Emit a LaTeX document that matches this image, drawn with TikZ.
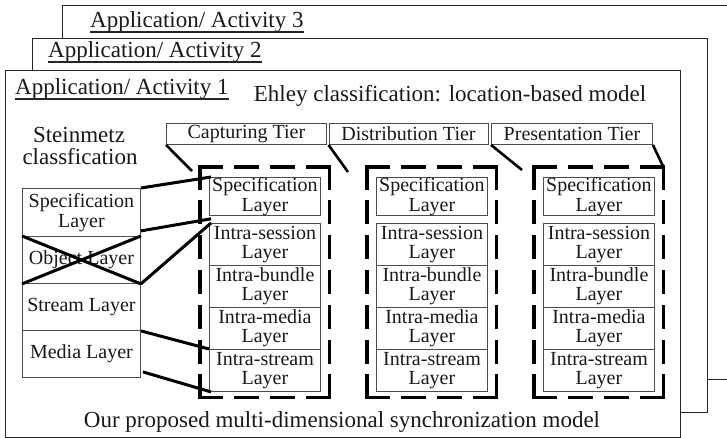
\documentclass[tikz,border=0pt]{standalone}
\usepackage{fontspec}
\setmainfont{Liberation Serif}
\begin{document}
\begin{tikzpicture}[x=1pt,y=-1pt,
  every node/.style={text=black!90},
  frame/.style={draw=black!85,line width=1.3pt,fill=white,anchor=north west,inner sep=0pt},
  apptitle/.style={anchor=base west,inner sep=0pt,font=\fontsize{23}{26}\selectfont},
  bigtext/.style={inner sep=0pt,font=\fontsize{23}{26}\selectfont},
  ulined/.style={draw=black!85,line width=1.1pt},
  tierbox/.style={draw=black!70,line width=0.9pt,anchor=north west,inner sep=0pt,
    minimum height=21pt,font=\fontsize{20}{20}\selectfont},
  layerbox/.style={draw=black!70,line width=0.9pt,anchor=north west,inner sep=0pt,
    minimum width=111pt,align=center,font=\fontsize{20}{19.5}\selectfont},
  leftbox/.style={draw=black!70,line width=0.9pt,anchor=north west,inner sep=0pt,
    minimum width=118pt,align=center,font=\fontsize{20}{19.5}\selectfont},
  region/.style={anchor=north west,inner sep=0pt,minimum width=129pt,minimum height=230pt},
  hside/.style={line width=3.5pt,line cap=rect,dash pattern=on 21pt off 15pt},
  vside/.style={line width=3.5pt,line cap=rect,dash pattern=on 20.86pt off 14pt},
  link/.style={line width=3pt},
  slant/.style={line width=2.6pt}]

\useasboundingbox (0,0) rectangle (727,438);
\clip (0,0) rectangle (727,438);

% stacked activity sheets, back to front
\node[frame,minimum width=700pt,minimum height=374pt] (f3) at (62,5) {};
\node[apptitle] (t3) at (90,28) {Application/ Activity 3};
\draw[ulined] ([yshift=-4pt]t3.base west) -- ([yshift=-4pt]t3.base east);

\node[frame,minimum width=675pt,minimum height=374pt] (f2) at (32,38) {};
\node[apptitle] (t2) at (48,58) {Application/ Activity 2};
\draw[ulined] ([yshift=-4pt]t2.base west) -- ([yshift=-4pt]t2.base east);

\node[frame,minimum width=675pt,minimum height=367pt] (f1) at (5,70) {};
\node[apptitle] (t1) at (15,95) {Application/ Activity 1};
\draw[ulined] ([yshift=-4pt]t1.base west) -- ([yshift=-4pt]t1.base east);

% headings
\node[bigtext,anchor=base] (ehley) at (450,102) {Ehley classification: location-based model};
\node[bigtext,anchor=base] (steinA) at (79,143) {Steinmetz};
\node[bigtext,anchor=base] (steinB) at (80,165) {classfication};
\node[bigtext,anchor=base] (ours) at (342,427) {Our proposed multi-dimensional synchronization model};

% tiers
\node[tierbox,minimum width=160pt] (tcap) at (166,123) {Capturing Tier};
\node[tierbox,minimum width=159pt] (tdist) at (328.5,123) {Distribution Tier};
\node[tierbox,minimum width=161pt] (tpres) at (491,123) {Presentation Tier};

% Steinmetz layers
\node[leftbox,minimum height=48pt] (lspec) at (22,188) {Specification\\Layer};
\node[leftbox,minimum height=47pt] (lobj) at (22,236) {Object Layer};
\node[leftbox,minimum height=47pt] (lstr) at (22,283) {Stream Layer};
\node[leftbox,minimum height=47pt] (lmed) at (22,330) {Media Layer};

% one column of layers per tier, inside a dashed region
\foreach \col/\xx in {c/209,d/376,p/543} {
  \node[region] (\col dash) at (\xx-9,167) {};
  \draw[hside] (\col dash.north west) -- (\col dash.north east);
  \draw[hside] (\col dash.south west) -- (\col dash.south east);
  \draw[vside] (\col dash.north west) -- (\col dash.south west);
  \draw[vside] (\col dash.north east) -- (\col dash.south east);
  \node[layerbox,minimum height=37pt] (\col spec) at (\xx,177) {Specification\\Layer};
  \node[layerbox,minimum height=42pt] (\col session) at (\xx,223) {Intra-session\\Layer};
  \node[layerbox,minimum height=42pt] (\col bundle) at (\xx,265) {Intra-bundle\\Layer};
  \node[layerbox,minimum height=42pt] (\col media) at (\xx,307) {Intra-media\\Layer};
  \node[layerbox,minimum height=42pt] (\col stream) at (\xx,349) {Intra-stream\\Layer};
}

% tier edges fanning down to the layer regions
\coordinate (s1) at (192,171);
\coordinate (s2) at (348,172);
\coordinate (s3) at (522,170);
\draw[slant] (tcap.south west) -- (s1);
\draw[slant] (tdist.south west) -- (s2);
\draw[slant] (tpres.south west) -- (s3);
\draw[slant] (tpres.south east) -- (pdash.north east);

% object layer struck out
\draw[link] (lobj.north west) -- (lobj.south east);
\draw[link] (lobj.south west) -- (lobj.north east);

% mapping of Steinmetz layers onto the capturing column
\draw[link] (lspec.north east) -- ([xshift=2pt]cspec.north west);
\draw[link] ([yshift=6pt]lspec.south east) -- ([xshift=2pt,yshift=-3pt]cspec.south west);
\draw[link] (lobj.south east) -- ([xshift=2pt]csession.north west);
\draw[link] (lstr.south east) -- (cstream.north west);
\draw[link] ([xshift=2pt,yshift=6pt]lmed.south east) -- ([xshift=2pt]cstream.south west);
\end{tikzpicture}
\end{document}
